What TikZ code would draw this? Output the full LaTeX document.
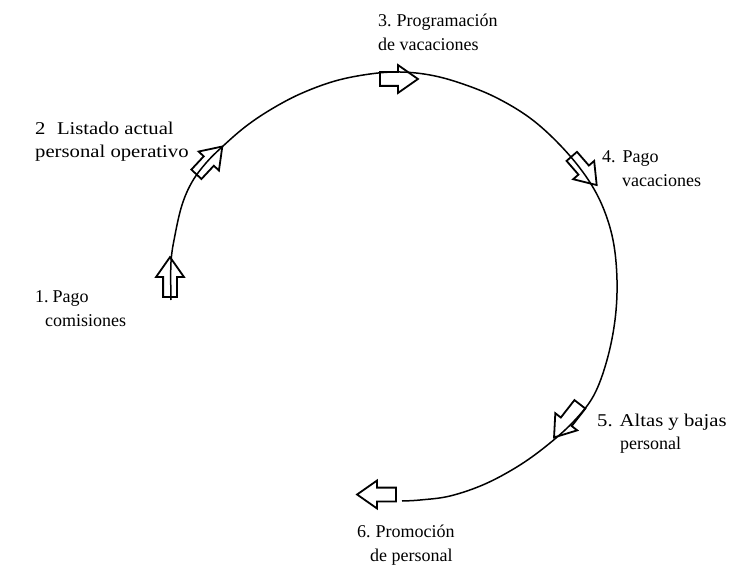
\documentclass[tikz,border=0pt]{standalone}
\usepackage{fontspec}
\usepackage{graphicx}
\setmainfont{Liberation Serif}
\usetikzlibrary{shapes.arrows}
\newcommand\wide[1]{\scalebox{1.15}[1]{#1}}
\begin{document}
\begin{tikzpicture}[x=1pt,y=-1pt,
  lbl/.style={anchor=west, inner sep=0pt, align=left, font=\fontsize{18}{23.5}\selectfont},
  blockarrow/.style={single arrow, draw=black, line width=1.8pt, inner sep=6pt,
    single arrow head extend=7pt, single arrow tip angle=70, minimum height=38pt},
  cycleline/.style={line width=1.5pt, line join=round}]
\useasboundingbox (0,0) rectangle (731,583);
% cycle curve
\draw[cycleline] plot[smooth, tension=0.6] coordinates {
  (171,300) (171,262) (175,235) (182,205) (192,182) (206,163) (222,147)
  (245,127) (270,110) (300,94) (335,81) (370,74) (400,72) (430,75) (460,83)
  (495,97) (530,118) (560,145) (585,175) (602,205) (613,240) (617,280)
  (615,320) (607,360) (594,395) (575,420) (550,443) (520,465) (485,484)
  (450,496) (420,500) (402,501)};
% block arrows
\node[blockarrow, rotate=90, minimum height=40pt] (a1) at (170,282) {};
\node[blockarrow, rotate=47] (a2) at (206,164) {};
\node[blockarrow, rotate=0] (a3) at (394,79) {};
\node[blockarrow, rotate=-49] (a4) at (581,167) {};
\node[blockarrow, rotate=-128, minimum height=42pt] (a5) at (570,417) {};
\node[blockarrow, rotate=180, minimum height=39pt] (a6) at (381.5,494.5) {};
% labels
\node[lbl] (l1) at (35,308.5) {1.\hspace{4pt}Pago\\\hspace*{10pt}comisiones};
\node[lbl] (l2) at (35,141.5) {\wide{2\hspace{10pt}Listado actual}\\\wide{personal operativo}};
\node[lbl] (l3) at (378,32.5) {3.\hspace{5pt}Programación\\de vacaciones};
\node[lbl] (l4) at (602,168.5) {4.\hspace{7pt}Pago\\\hspace*{20pt}vacaciones};
\node[lbl] (l5) at (597,433.5) {\wide{5.\hspace{6pt}Altas y bajas}\\\hspace*{23pt}personal};
\node[lbl] (l6) at (357,545) {6.\hspace{5pt}Promoción\\\hspace*{13pt}de personal};
\end{tikzpicture}
\end{document}
